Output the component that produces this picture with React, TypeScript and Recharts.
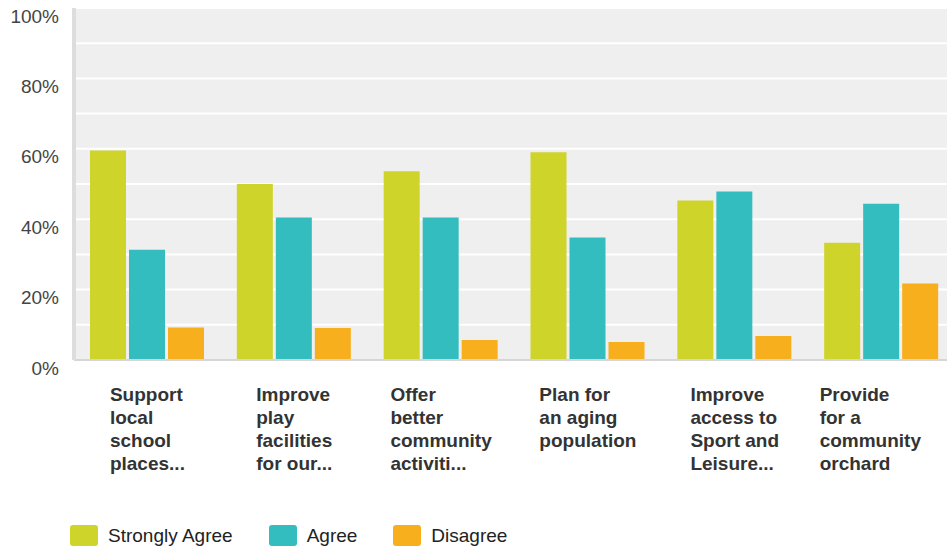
import React from "react";
import { BarChart, Bar, XAxis, YAxis, CartesianGrid, Legend } from "recharts";

const categories = [
  "Support local school places...",
  "Improve play facilities for our...",
  "Offer better community activiti...",
  "Plan for an aging population",
  "Improve access to Sport and Leisure...",
  "Provide for a community orchard",
];
const stronglyAgree = [59.5, 50, 53.6, 59, 45.3, 33.3];
const agree = [31.3, 40.5, 40.5, 34.8, 47.9, 44.4];
const disagree = [9.2, 9.1, 5.7, 5.1, 6.8, 21.7];
const yTicks = [0, 10, 20, 30, 40, 50, 60, 70, 80, 90, 100];
const labeledTicks = [0, 20, 40, 60, 80, 100];

const series = [
  { key: "stronglyAgree", name: "Strongly Agree", color: "#CED42A" },
  { key: "agree", name: "Agree", color: "#33BDBF" },
  { key: "disagree", name: "Disagree", color: "#F7AF1E" },
];

const data = categories.map((c, i) => ({
  name: c,
  stronglyAgree: stronglyAgree[i],
  agree: agree[i],
  disagree: disagree[i],
}));

const FONT = "'Liberation Sans', Arial, Helvetica, sans-serif";
const VISIBLE_WIDTH = 947;

function wrap(label: string, max: number): string[] {
  const words = label.split(" ");
  const lines: string[] = [];
  let cur = "";
  for (const w of words) {
    if (!cur) cur = w;
    else if ((cur + " " + w).length <= max) cur = cur + " " + w;
    else {
      lines.push(cur);
      cur = w;
    }
  }
  if (cur) lines.push(cur);
  return lines;
}

let ctx: CanvasRenderingContext2D | null = null;
function measure(text: string, font: string): number {
  if (!ctx && typeof document !== "undefined") {
    ctx = document.createElement("canvas").getContext("2d");
  }
  if (ctx) {
    ctx.font = font;
    return ctx.measureText(text).width;
  }
  return text.length * 10;
}

const XTick = (props: any) => {
  const { x, y, payload } = props;
  const lines = wrap(String(payload.value), 10);
  const font = `bold 19px ${FONT}`;
  const w = Math.max(...lines.map((l) => measure(l, font)));
  const left = Math.min(x - w / 2, VISIBLE_WIDTH - 26 - w);
  return (
    <text
      x={left}
      y={y + 40.5}
      textAnchor="start"
      fontFamily={FONT}
      fontWeight="bold"
      fontSize={19}
      fill="#333333"
    >
      {lines.map((l, i) => (
        <tspan key={i} x={left} dy={i === 0 ? 0 : 23}>
          {l}
        </tspan>
      ))}
    </text>
  );
};

const YTick = (props: any) => {
  const { x, y, payload } = props;
  if (!labeledTicks.includes(payload.value)) return null;
  return (
    <text
      x={x}
      y={y + 14.5}
      textAnchor="end"
      fontFamily={FONT}
      fontSize={19}
      fill="#444444"
    >
      {payload.value}%
    </text>
  );
};

const LegendContent = () => (
  <div style={{ display: "flex", alignItems: "center", fontFamily: FONT }}>
    {series.map((s) => (
      <div key={s.key} style={{ display: "flex", alignItems: "center", marginRight: 36 }}>
        <div
          style={{
            width: 28,
            height: 21,
            borderRadius: 3,
            background: s.color,
            marginRight: 10,
          }}
        />
        <span style={{ fontSize: 19, color: "#222222", lineHeight: "21px" }}>{s.name}</span>
      </div>
    ))}
  </div>
);

export default function App() {
  return (
    <div
      style={{
        position: "absolute",
        left: 0,
        top: 0,
        width: VISIBLE_WIDTH,
        height: 549,
        overflow: "hidden",
        background: "#ffffff",
      }}
    >
      <BarChart
        width={955}
        height={549}
        data={data}
        margin={{ top: 8, right: 0, bottom: 0, left: 0 }}
        barSize={36}
        barGap={3}
      >
        <CartesianGrid
          vertical={false}
          horizontal={true}
          stroke="#ffffff"
          strokeWidth={2}
          fill="#efefef"
        />
        <XAxis
          dataKey="name"
          height={189}
          tickSize={0}
          tickMargin={0}
          tickLine={false}
          axisLine={{ stroke: "#d6d6d6", strokeWidth: 2 }}
          tick={<XTick />}
          interval={0}
        />
        <YAxis
          width={74}
          domain={[0, 100]}
          ticks={yTicks}
          interval={0}
          tickSize={0}
          tickMargin={15}
          tickLine={false}
          axisLine={{ stroke: "#dddddd", strokeWidth: 4 }}
          tick={<YTick />}
        />
        <Legend
          layout="horizontal"
          verticalAlign="middle"
          align="center"
          content={<LegendContent />}
          wrapperStyle={{ top: 525, left: 70, width: "auto", height: 21 }}
        />
        {series.map((s) => (
          <Bar
            key={s.key}
            dataKey={s.key}
            name={s.name}
            fill={s.color}
            isAnimationActive={false}
          />
        ))}
      </BarChart>
    </div>
  );
}
